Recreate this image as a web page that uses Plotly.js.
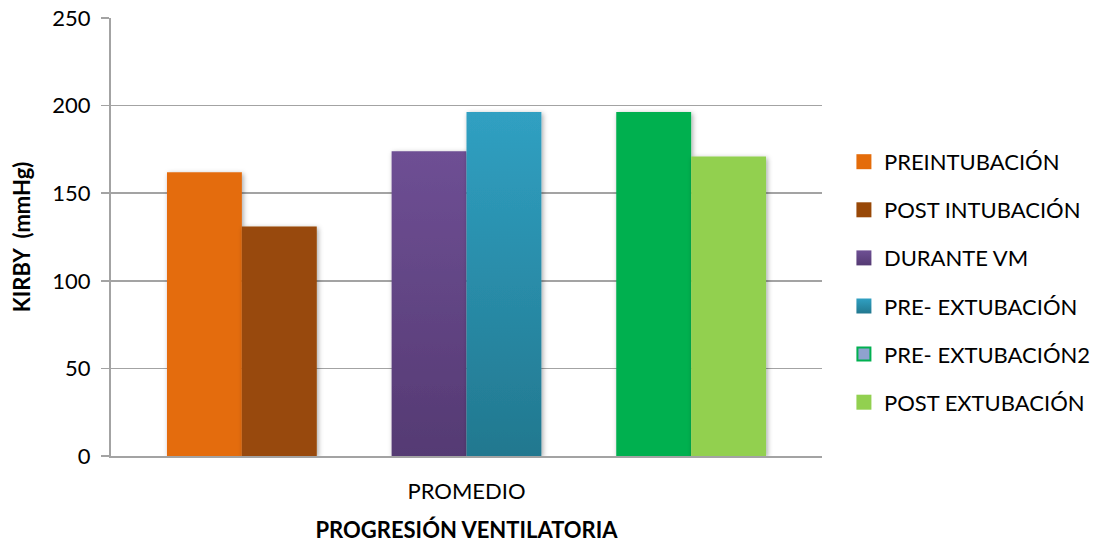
<!DOCTYPE html>
<html>
<head>
<meta charset="utf-8">
<script src="https://cdn.plot.ly/plotly-3.0.1.min.js"></script>
<style>
  html, body { margin: 0; padding: 0; background: #ffffff; }
  #chart { width: 1101px; height: 544px; }
</style>
</head>
<body>
<div id="chart"></div>
<script>
// Kirby index (mmHg) averaged at each stage of ventilation
const categories = ['PROMEDIO'];

const preIntubacion   = [162];
const postIntubacion  = [131];
const duranteVM       = [174];
const preExtubacion   = [196.4];
const preExtubacion2  = [196.4];
const postExtubacion  = [171];
const emptySlot       = [null];

const seriesNames = ['PREINTUBACIÓN', 'POST INTUBACIÓN', 'DURANTE VM',
                     'PRE- EXTUBACIÓN', 'PRE- EXTUBACIÓN2', 'POST EXTUBACIÓN'];

const yTicks = [0, 50, 100, 150, 200, 250];

const FONT = 'Lato, "Noto Sans", sans-serif';
const FS = 22;
const GRID = '#A3A3A3';

function barTrace(name, values, color, group) {
  return {
    type: 'bar', name: name, x: categories, y: values,
    marker: { color: color, line: { width: 0 } },
    legendgroup: group, showlegend: true, hoverinfo: 'skip'
  };
}
function spacer(group) {
  return { type: 'bar', name: ' ', x: categories, y: emptySlot,
           showlegend: false, legendgroup: group, hoverinfo: 'skip' };
}

const data = [
  barTrace(seriesNames[0], preIntubacion,  '#E46C0A', 'g1'),
  barTrace(seriesNames[1], postIntubacion, '#984807', 'g2'),
  spacer('s1'),
  barTrace(seriesNames[2], duranteVM,      '#624485', 'g3'),
  barTrace(seriesNames[3], preExtubacion,  '#298DAB', 'g4'),
  spacer('s2'),
  barTrace(seriesNames[4], preExtubacion2, '#00B050', 'g5'),
  barTrace(seriesNames[5], postExtubacion, '#92D050', 'g6')
];

const layout = {
  width: 1101, height: 544,
  margin: { l: 111, r: 279, t: 18, b: 88 },
  paper_bgcolor: '#ffffff', plot_bgcolor: '#ffffff',
  font: { family: FONT, size: FS, color: '#000000' },
  barmode: 'group', bargap: 0.1575, bargroupgap: 0,
  showlegend: true,
  legend: {
    xref: 'container', yref: 'container',
    x: 0.7665, xanchor: 'left', y: 0.491, yanchor: 'middle',
    traceorder: 'grouped', tracegroupgap: 16.5,
    font: { family: FONT, size: FS, color: '#000000' },
    bgcolor: 'rgba(0,0,0,0)'
  },
  xaxis: {
    type: 'category', showgrid: false, zeroline: false,
    showline: true, linecolor: GRID, linewidth: 2,
    ticks: '', ticklabelstandoff: 15,
    tickfont: { family: FONT, size: FS, color: '#000000' },
    title: { text: 'PROGRESIÓN VENTILATORIA', standoff: 19,
             font: { family: FONT, size: FS, weight: 'bold', color: '#000000' } }
  },
  yaxis: {
    range: [0, 250], tickvals: yTicks, ticktext: yTicks.map(String),
    showgrid: true, gridcolor: GRID, gridwidth: 1.5,
    zeroline: false, showline: true, linecolor: GRID, linewidth: 2,
    ticks: 'outside', ticklen: 8, tickcolor: GRID, tickwidth: 1.5,
    ticklabelstandoff: 6,
    tickfont: { family: FONT, size: FS, color: '#000000' },
    title: { text: 'KIRBY  (mmHg)', standoff: 16,
             font: { family: FONT, size: FS, weight: 'bold', color: '#000000' } }
  }
};

const gd = document.getElementById('chart');

// Vertical gradients for two series plus a soft shadow under every bar
function decorate() {
  const svg = gd.querySelector('svg.main-svg');
  const NS = 'http://www.w3.org/2000/svg';
  let defs = svg.querySelector('defs');
  if (!defs) { defs = document.createElementNS(NS, 'defs'); svg.insertBefore(defs, svg.firstChild); }

  function grad(id, top, bottom) {
    const g = document.createElementNS(NS, 'linearGradient');
    g.setAttribute('id', id);
    g.setAttribute('x1', '0'); g.setAttribute('y1', '0');
    g.setAttribute('x2', '0'); g.setAttribute('y2', '1');
    [[0, top], [1, bottom]].forEach(function (s) {
      const st = document.createElementNS(NS, 'stop');
      st.setAttribute('offset', s[0]);
      st.setAttribute('stop-color', s[1]);
      g.appendChild(st);
    });
    defs.appendChild(g);
  }
  grad('gradVM', '#6E4F94', '#553A73');
  grad('gradPreExt', '#30A0C2', '#22788F');

  const f = document.createElementNS(NS, 'filter');
  f.setAttribute('id', 'barShadow');
  f.setAttribute('x', '-20%'); f.setAttribute('y', '-20%');
  f.setAttribute('width', '140%'); f.setAttribute('height', '140%');
  const ds = document.createElementNS(NS, 'feDropShadow');
  ds.setAttribute('dx', '1.5'); ds.setAttribute('dy', '1.5');
  ds.setAttribute('stdDeviation', '2.5');
  ds.setAttribute('flood-color', '#000000');
  ds.setAttribute('flood-opacity', '0.35');
  f.appendChild(ds);
  defs.appendChild(f);

  const gradByName = { 'DURANTE VM': 'url(#gradVM)', 'PRE- EXTUBACIÓN': 'url(#gradPreExt)' };

  gd.querySelectorAll('.barlayer .trace').forEach(function (tr) {
    const cd = tr.__data__;
    const t = cd && cd[0] && cd[0].trace;
    tr.querySelectorAll('path').forEach(function (p) {
      p.setAttribute('filter', 'url(#barShadow)');
      if (t && gradByName[t.name]) p.style.fill = gradByName[t.name];
    });
  });

  gd.querySelectorAll('.legend .traces').forEach(function (it) {
    const d = it.__data__;
    let t = null;
    if (d && d[0]) t = d[0].trace || (d[0][0] && d[0][0].trace) || null;
    let name = t ? t.name : null;
    if (!name) {
      const tx = it.querySelector('text.legendtext');
      name = tx ? tx.textContent : null;
    }
    const p = it.querySelector('.legendpoints path');
    if (!p || !name) return;
    p.setAttribute('d', 'M7.5,7.5H-7.5V-7.5H7.5Z');
    if (gradByName[name]) p.style.fill = gradByName[name];
    if (name === 'PRE- EXTUBACIÓN2') {
      p.style.fill = '#8FA2CE';
      p.style.stroke = '#00B050';
      p.style.strokeWidth = '2px';
      p.setAttribute('d', 'M6.5,6.5H-6.5V-6.5H6.5Z');
    }
  });
}

Plotly.newPlot(gd, data, layout, { staticPlot: true, displayModeBar: false }).then(decorate);
</script>
</body>
</html>
